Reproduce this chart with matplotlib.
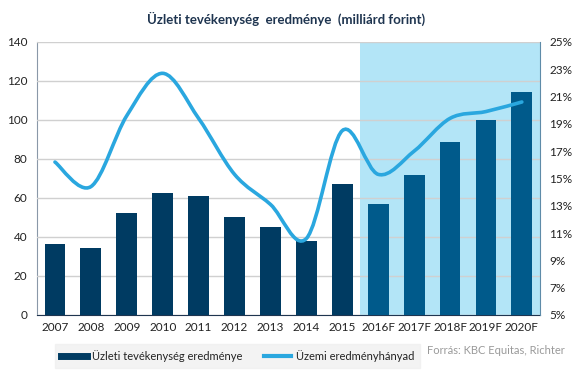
import matplotlib.pyplot as plt
import numpy as np
from matplotlib.path import Path
from matplotlib.patches import PathPatch
from matplotlib.lines import Line2D

plt.rcParams['font.family'] = ['Lato', 'DejaVu Sans']

years = ['2007', '2008', '2009', '2010', '2011', '2012', '2013', '2014', '2015',
         '2016F', '2017F', '2018F', '2019F', '2020F']
ebit = [36.4, 34.3, 52.5, 62.6, 61.2, 50.3, 45.2, 38.0, 67.3,
        57.0, 71.8, 88.7, 100.2, 114.4]
margin = [16.2, 14.4, 19.6, 22.7, 19.4, 15.3, 13.1, 10.6, 18.5,
          15.3, 17.0, 19.4, 19.9, 20.6]
n_actual = 9

dark = '#003B62'
fcast = '#005A8B'
shade = '#B3E5F7'
line_col = '#2AA7DF'
txt = '#1F3550'

fig = plt.figure(figsize=(5.72, 3.71), dpi=100)
ax = fig.add_axes([0.0647, 0.151, 0.879, 0.736])
ax2 = ax.twinx()

x = np.arange(len(years))
colors = [dark] * n_actual + [fcast] * (len(years) - n_actual)
ax.axvspan(n_actual - 0.5, len(years) - 0.45, color=shade, zorder=0, lw=0)
ax.bar(x, ebit, width=0.58, color=colors, zorder=3)

ax.set_xlim(-0.5, len(years) - 0.5)
ax.set_ylim(0, 140)
ax.set_yticks(range(0, 141, 20))
ax.yaxis.grid(True, color='#D0D0D0', lw=1)
ax.set_axisbelow(False)
for gl in ax.get_ygridlines():
    gl.set_zorder(1)
ax.set_xticks(x)
ax.set_xticklabels(years)
ax.tick_params(axis='both', length=0, labelsize=8.5, colors='#222222')
ax.tick_params(axis='x', pad=5)
ax.tick_params(axis='y', pad=7)
for s in ['top', 'right']:
    ax.spines[s].set_visible(False)
ax.spines['left'].set_color('#8A98A8')
ax.spines['bottom'].set_color(txt)

# smooth line (Excel style) as bezier segments through the data points
ax2.set_ylim(5, 25)
ax2.set_yticks(range(5, 26, 2))
ax2.set_yticklabels([f'{v}%' for v in range(5, 26, 2)])
ax2.tick_params(axis='y', length=0, labelsize=8.5, colors='#222222', pad=7)
for s in ['top', 'left', 'bottom']:
    ax2.spines[s].set_visible(False)
ax2.spines['right'].set_color('#5E8BA8')

pts = np.column_stack([x, margin]).astype(float)
verts = [pts[0]]
codes = [Path.MOVETO]
for i in range(len(pts) - 1):
    p0 = pts[max(i - 1, 0)]
    p1 = pts[i]
    p2 = pts[i + 1]
    p3 = pts[min(i + 2, len(pts) - 1)]
    c1 = p1 + (p2 - p0) / 6
    c2 = p2 - (p3 - p1) / 6
    verts += [c1, c2, p2]
    codes += [Path.CURVE4] * 3
ax2.add_patch(PathPatch(Path(verts, codes), fill=False, edgecolor=line_col,
                        lw=2.6, capstyle='round', zorder=5))

fig.text(0.5, 0.948, 'Üzleti tevékenység  eredménye  (milliárd forint)',
         ha='center', va='center', fontsize=9.5, fontweight='bold', color=txt)

handles = [Line2D([], [], color=dark, lw=5),
           Line2D([], [], color=line_col, lw=3)]
leg = fig.legend(handles, ['Üzleti tevékenység eredménye', 'Üzemi eredményhányad'],
                 loc='center', bbox_to_anchor=(0.415, 0.04), ncol=2, fontsize=8,
                 frameon=True, fancybox=False, handlelength=2.4, handletextpad=0.4,
                 columnspacing=2.0, borderpad=0.55, borderaxespad=0)
leg.get_frame().set_facecolor('#F0F0F0')
leg.get_frame().set_edgecolor('#F0F0F0')
for t in leg.get_texts():
    t.set_color('#222222')

fig.text(0.988, 0.055, 'Forrás: KBC Equitas, Richter', ha='right', va='center',
         fontsize=8, color='#9A9A9A')

fig.savefig('out.png', dpi=100)
